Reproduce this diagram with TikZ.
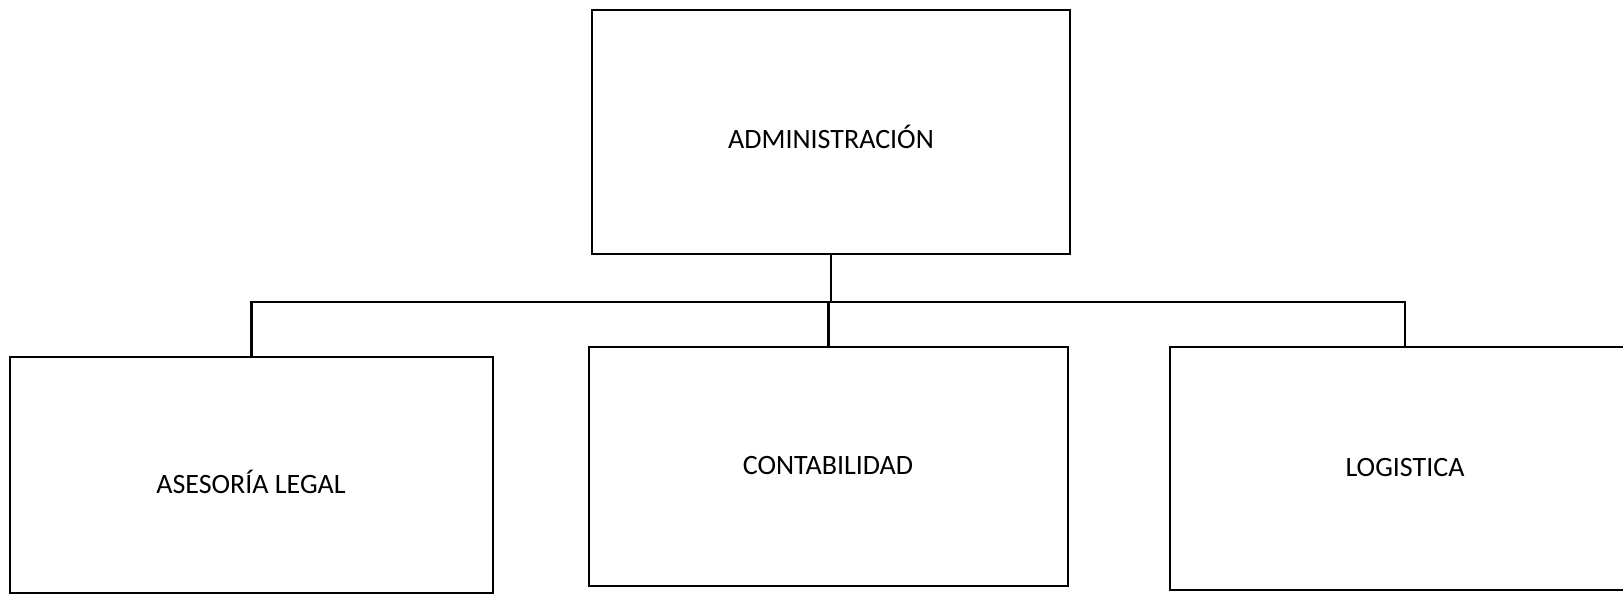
\documentclass[tikz,border=0pt]{standalone}
\usepackage{fontspec}
\setmainfont{Carlito}
\begin{document}
\begin{tikzpicture}[x=1pt,y=-1pt,
  box/.style={draw=black, line width=2.8pt, rectangle, inner sep=0pt},
  lbl/.style={font=\fontsize{28}{32}\selectfont, inner sep=0pt},
  conn/.style={draw=black, line width=2.4pt}]
\useasboundingbox (0,0) rectangle (1623,596);
\clip (0,0) rectangle (1623,596);
\node[box, minimum width=478pt, minimum height=244pt] (adm) at (831,132) {};
\node[box, minimum width=483pt, minimum height=236pt] (legal) at (251.5,475) {};
\node[box, minimum width=479pt, minimum height=239pt] (cont) at (828.5,466.5) {};
\node[box, minimum width=470pt, minimum height=243pt] (logi) at (1405,468.5) {};
\node[lbl] (admt) at (831,137) {ADMINISTRACIÓN};
\node[lbl] (legalt) at (251,482) {ASESORÍA LEGAL};
\node[lbl] (contt) at (828,466) {CONTABILIDAD};
\node[lbl] (logit) at (1405,468) {LOGISTICA};
\coordinate (j) at (831,302);
\draw[conn] (adm.south) -- (adm.south |- j);
\draw[conn] (legal.north) |- (j) -| (logi.north);
\draw[conn] (cont.north) -- (cont.north |- j);
\end{tikzpicture}
\end{document}
